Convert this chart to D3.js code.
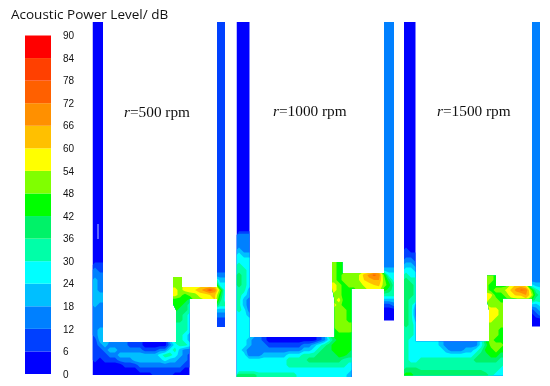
<!DOCTYPE html>
<html>
<head>
<meta charset="utf-8">
<style>
	html, body { margin: 0; padding: 0; background: #fff; }
	svg { display: block; }
</style>
<script src="https://cdn.jsdelivr.net/npm/d3@7"></script>
</head>
<body>
<div id="chart"></div>
<script>
// Legend: lower edge of each band in dB, and its colour
const levels = [0, 6, 12, 18, 24, 30, 36, 42, 48, 54, 60, 66, 72, 78, 84];
const levelColors = ["#0000ff", "#0040ff", "#0080ff", "#00bfff", "#00ffff", "#00ffa8", "#00f268", "#00ff00",
	"#80ff00", "#ffff00", "#ffc000", "#ff9000", "#ff6000", "#ff4000", "#ff0000"];
const legendTicks = [0, 6, 12, 18, 24, 30, 36, 42, 48, 54, 60, 66, 72, 78, 84, 90];

// dB, one row every 5px; {startColumn: [values]}, only inside the duct
const rows500 = [
	{0: [3, 3], 25: [9, 9]},
	{0: [3, 3], 25: [9, 9]},
	{0: [9, 9], 25: [9, 9]},
	{0: [15, 9], 25: [9, 9]},
	{0: [15, 15], 25: [15, 15]},
	{0: [21, 15], 16: [51, 51], 25: [21, 21]},
	{0: [21, 15], 16: [51, 51, 57, 57, 57, 57, 57, 57, 57, 27, 27]},
	{0: [21, 15], 16: [57, 51, 57, 57, 60, 64, 70, 76, 70, 51, 27]},
	{0: [21, 21], 16: [57, 51, 45, 51, 51, 57, 57, 60, 61, 45, 27]},
	{0: [21, 21], 16: [45, 45, 45, 39, 51, 51, 54, 57, 60, 39, 27]},
	{0: [21, 15], 16: [45, 45, 39, 33], 25: [33, 33]},
	{0: [15, 15], 16: [45, 39, 39, 33], 25: [21, 21]},
	{0: [15, 15], 16: [39, 39, 33, 27], 25: [15, 15]},
	{0: [15, 15], 16: [39, 39, 33, 27], 25: [9, 9]},
	{0: [15, 15], 16: [33, 33, 33, 27], 25: [9, 9]},
	{0: [15, 21], 16: [33, 33, 33, 27]},
	{0: [15, 21], 16: [33, 33, 27, 21]},
	{0: [9, 21, 21], 16: [33, 33, 27, 21]},
	{0: [9, 15, 21, 15, 15, 15, 15, 9, 9, 9, 3, 3, 3, 3, 3, 15, 27, 33, 33, 27]},
	{0: [9, 9, 15, 21, 21, 15, 15, 15, 15, 15, 9, 9, 9, 15, 15, 27, 33, 21, 15, 15]},
	{0: [9, 9, 9, 15, 15, 21, 21, 21, 21, 21, 21, 21, 21, 27, 33, 33, 27, 21, 15, 9]},
	{0: [9, 3, 9, 9, 9, 15, 15, 15, 21, 21, 21, 21, 21, 21, 27, 21, 21, 15, 15, 9]},
	{0: [3, 3, 3, 3, 3, 3, 9, 9, 9, 15, 15, 15, 15, 15, 15, 15, 15, 15, 9, 9]},
	{0: [3, 3, 3, 3, 3, 3, 3, 3, 3, 9, 9, 9, 9, 9, 9, 9, 9, 9, 3, 3]},
	{0: [3, 3, 3, 3, 3, 3, 3, 3, 3, 3, 3, 3, 9, 9, 9, 9, 3, 3, 3, 3]}
];

const rows1000 = [
	{0: [3, 3, 3], 29: [15, 15, 15]},
	{0: [3, 3, 3], 29: [15, 15, 15]},
	{0: [15, 15, 15], 29: [15, 15, 15]},
	{0: [15, 15, 15], 29: [15, 15, 15]},
	{0: [15, 15, 15], 29: [15, 15, 15]},
	{0: [21, 15, 15], 29: [15, 15, 15]},
	{0: [27, 21, 21], 29: [15, 15, 15]},
	{0: [27, 27, 27], 19: [51, 45, 45], 29: [15, 15, 15]},
	{0: [33, 27, 27], 19: [51, 45, 45], 29: [15, 15, 15]},
	{0: [33, 33, 27], 19: [51, 45, 45, 51, 51, 51, 51, 51, 57, 57, 21, 21, 21]},
	{0: [39, 33, 27], 19: [51, 45, 51, 51, 51, 54, 62, 68, 74, 70, 48, 27, 27]},
	{0: [39, 33, 27], 19: [51, 45, 51, 51, 51, 54, 60, 64, 66, 66, 51, 39, 27]},
	{0: [39, 33, 27], 19: [57, 51, 45, 51, 51, 51, 55, 57, 60, 61, 51, 45, 33]},
	{0: [33, 33, 21], 19: [57, 51, 45, 45, 45, 51, 51, 55, 57, 57, 45, 39, 33]},
	{0: [33, 27, 21], 19: [51, 51, 45, 45], 29: [33, 33, 33]},
	{0: [33, 21, 15], 19: [51, 57, 45, 45], 29: [21, 21, 21]},
	{0: [33, 21, 15], 19: [57, 51, 45, 45], 29: [9, 9, 15]},
	{0: [33, 27, 15], 19: [51, 51, 51, 45], 29: [3, 3, 3]},
	{0: [27, 27, 21], 19: [51, 51, 51, 45], 29: [3, 3, 3]},
	{0: [27, 27, 27], 19: [51, 51, 51, 45], 29: [3, 3, 3]},
	{0: [27, 27, 27], 19: [51, 51, 51, 51]},
	{0: [27, 27, 27], 19: [45, 51, 51, 51]},
	{0: [27, 27, 27], 19: [45, 45, 45, 45]},
	{0: [27, 27, 21, 15, 15, 9, 3, 3, 3, 3, 3, 3, 3, 3, 3, 3, 9, 15, 27, 39, 45, 45, 45, 39]},
	{0: [27, 27, 21, 15, 15, 15, 9, 9, 9, 9, 9, 9, 9, 15, 15, 21, 27, 33, 39, 45, 45, 45, 45, 39]},
	{0: [27, 21, 15, 15, 15, 15, 15, 15, 15, 15, 15, 15, 15, 21, 21, 27, 33, 39, 39, 45, 45, 45, 45, 39]},
	{0: [27, 27, 15, 15, 15, 21, 21, 21, 21, 21, 27, 27, 27, 33, 33, 33, 39, 39, 39, 39, 45, 45, 39, 39]},
	{0: [27, 27, 27, 27, 27, 27, 27, 27, 27, 27, 33, 33, 33, 33, 39, 39, 39, 39, 39, 39, 39, 33, 33, 33]},
	{0: [27, 27, 27, 27, 27, 27, 27, 27, 27, 27, 33, 33, 33, 33, 33, 33, 33, 33, 33, 33, 33, 33, 27, 27]},
	{0: [27, 27, 27, 27, 27, 27, 27, 27, 27, 27, 27, 27, 27, 27, 27, 27, 27, 27, 27, 27, 27, 27, 27, 21]},
	{0: [39, 39, 39, 39, 33, 33, 33, 33, 33, 33, 33, 33, 27, 27, 27, 27, 27, 27, 27, 27, 27, 27, 21, 15]},
	{0: [39, 39, 39, 39, 33, 33, 33, 33, 33, 33, 33, 33, 27, 27, 27, 27, 27, 27, 27, 27, 27, 27, 21, 15]}
];

const rows1500 = [
	{0: [3, 3, 3], 25: [15, 15, 15]},
	{0: [9, 3, 3], 25: [15, 15, 15]},
	{0: [9, 9, 9], 25: [15, 15, 15]},
	{0: [15, 15, 9], 25: [15, 15, 15]},
	{0: [21, 21, 15], 25: [15, 15, 15]},
	{0: [27, 27, 21], 25: [15, 15, 15]},
	{0: [33, 27, 27], 16: [51, 51, 45], 25: [15, 15, 15]},
	{0: [39, 33, 33], 16: [51, 51, 45], 25: [15, 15, 15]},
	{0: [39, 39, 33], 16: [51, 45, 45, 45, 45, 55, 61, 61, 55, 27, 21, 21]},
	{0: [39, 39, 33], 16: [51, 45, 51, 51, 55, 61, 68, 73, 72, 51, 33, 27]},
	{0: [39, 39, 33], 16: [57, 57, 45, 45, 51, 57, 61, 61, 66, 57, 39, 33]},
	{0: [39, 33, 33], 16: [57, 51, 51, 45, 45, 51, 51, 55, 57, 45, 33, 33]},
	{0: [39, 33, 21], 17: [51, 51, 51, 51], 25: [21, 21, 27]},
	{0: [39, 33, 15], 17: [57, 57, 51, 51], 25: [9, 15, 21]},
	{0: [39, 33, 15], 17: [57, 57, 51, 51], 25: [3, 9, 15]},
	{0: [39, 33, 21], 17: [57, 51, 51, 51], 25: [3, 3, 3]},
	{0: [39, 33, 27], 17: [51, 51, 51, 51], 25: [3, 3, 3]},
	{0: [33, 33, 27], 17: [51, 51, 45, 45]},
	{0: [33, 33, 27], 17: [51, 51, 45, 45]},
	{0: [33, 27, 27], 17: [51, 45, 45, 39]},
	{0: [33, 27, 27, 27, 27, 27, 27, 21, 15, 15, 15, 15, 15, 15, 15, 27, 39, 51, 51, 51, 45]},
	{0: [33, 27, 27, 27, 27, 27, 27, 27, 21, 15, 15, 15, 21, 21, 27, 33, 45, 45, 51, 45, 45]},
	{0: [33, 27, 27, 27, 27, 27, 27, 27, 27, 27, 27, 27, 27, 27, 33, 39, 39, 45, 45, 39, 39]},
	{0: [33, 27, 27, 33, 33, 33, 33, 33, 33, 33, 33, 33, 33, 33, 39, 39, 39, 39, 39, 33, 33]},
	{0: [33, 33, 33, 33, 33, 33, 33, 33, 33, 33, 33, 33, 33, 33, 33, 33, 33, 33, 33, 33, 27]},
	{0: [39, 39, 39, 36, 36, 36, 36, 36, 36, 36, 36, 36, 36, 36, 36, 36, 33, 33, 33, 27, 27]},
	{0: [45, 45, 39, 39, 39, 39, 39, 39, 39, 39, 39, 39, 39, 39, 39, 39, 39, 33, 27, 27, 27]}
];

const speeds = ["500", "1000", "1500"];
const speedRows = [rows500, rows1000, rows1500];

// Layout: first sample position and duct outline of each panel
const firstX = [95, 239, 406];
const firstY = [255, 225, 245];
const columnCounts = [27, 32, 28];
const ductOutlines = [
	[[92.5, 22], [103, 22], [103, 342], [176, 342], [176, 310], [173, 304], [173, 277], [182, 277], [182, 287], [217, 287],
		[217, 22], [225, 22], [225, 327], [217, 327], [217, 299], [189.5, 299], [189.5, 375], [92.5, 375]],
	[[236.5, 22], [249.5, 22], [249.5, 337], [334.5, 337], [334.5, 300], [332, 288], [332, 262], [342.5, 262], [342.5, 273], [384, 273],
		[384, 22], [394, 22], [394, 320.5], [384, 320.5], [384, 289], [351.5, 289], [351.5, 377], [236.5, 377]],
	[[404, 22], [415.5, 22], [415.5, 341.5], [489, 341.5], [489, 310], [487, 300], [487, 275.5], [496, 275.5], [496, 286], [532, 286],
		[532, 22], [540, 22], [540, 326.5], [532, 326.5], [532, 298.5], [503, 298.5], [503, 375.5], [404, 375.5]]
];
const labelX = [124, 273, 437];
const labelY = [117, 116, 116];

const width = 550;
const height = 386;
const step = 5;

const svg = d3.select("#chart")
	.append("svg")
	.attr("width", width)
	.attr("height", height)
	.style("filter", "blur(0.4px)");

// Title
svg.append("text")
	.attr("x", 11)
	.attr("y", 19)
	.attr("font-family", "'Open Sans', sans-serif")
	.attr("font-size", 13.5)
	.attr("fill", "#111")
	.text("Acoustic Power Level/ dB");

// Colour legend
const legendScale = d3.scaleLinear().domain([0, 90]).range([374, 35.5]);

svg.append("g")
	.selectAll("rect")
	.data(levels)
	.join("rect")
	.attr("x", 25)
	.attr("width", 26)
	.attr("y", d => legendScale(d + 6))
	.attr("height", d => legendScale(d) - legendScale(d + 6))
	.attr("fill", (d, i) => levelColors[i]);

const legendAxis = svg.append("g")
	.attr("transform", "translate(63,0)")
	.call(d3.axisRight(legendScale).tickValues(legendTicks).tickSize(0).tickPadding(0));
legendAxis.select(".domain").remove();
legendAxis.selectAll("text")
	.attr("font-family", "'Liberation Sans', Arial, sans-serif")
	.attr("font-size", 10)
	.attr("fill", "#111");

// Panels
speeds.forEach((speed, p) => drawPanel(p));

// Small slit in the left tube of the first panel
svg.append("line")
	.attr("x1", 98).attr("x2", 98)
	.attr("y1", 224).attr("y2", 239)
	.attr("stroke", "#b8c8ff")
	.attr("stroke-width", 1);

function drawPanel(p) {
	const rows = speedRows[p];
	const nx = columnCounts[p];
	// one more row on top: the tubes stay at one level up to their open end
	const values = fillOutside(rows, nx);
	const grid = values.slice(0, nx).concat(values);
	const ny = rows.length + 1;

	// d3.contours puts sample k at k + 0.5
	const x = d3.scaleLinear()
		.domain([0.5, nx - 0.5])
		.range([firstX[p], firstX[p] + (nx - 1) * step]);
	const y = d3.scaleLinear()
		.domain([0.5, 1.5, ny - 0.5])
		.range([15, firstY[p], firstY[p] + (rows.length - 1) * step]);

	const path = d3.geoPath(d3.geoTransform({
		point(a, b) { this.stream.point(x(a), y(b)); }
	}));

	const contours = d3.contours()
		.size([nx, ny])
		.smooth(true)
		.thresholds(levels)(grid);

	const clipId = `duct-${p}`;
	svg.append("clipPath")
		.attr("id", clipId)
		.append("path")
		.attr("d", d3.line()(ductOutlines[p]) + "Z");

	svg.append("g")
		.attr("clip-path", `url(#${clipId})`)
		.selectAll("path")
		.data(contours)
		.join("path")
		.attr("d", path)
		.attr("fill", (d, i) => levelColors[i]);

	const label = svg.append("text")
		.attr("x", labelX[p])
		.attr("y", labelY[p])
		.attr("font-family", "'Liberation Serif', 'Times New Roman', serif")
		.attr("font-size", 15.3)
		.attr("fill", "#111");
	label.append("tspan").attr("font-style", "italic").text("r");
	label.append("tspan").text(`=${speeds[p]} rpm`);
}

// Expand the sparse rows and copy neighbours into cells outside the duct,
// those get clipped away but must not bend the bands at the wall
function fillOutside(rows, nx) {
	const ny = rows.length;
	const out = new Array(nx * ny).fill(null);
	rows.forEach((row, j) => {
		Object.keys(row).forEach(start => {
			row[start].forEach((v, k) => { out[j * nx + (+start) + k] = v; });
		});
	});
	let missing = true;
	while (missing) {
		missing = false;
		const prev = out.slice();
		for (let j = 0; j < ny; j++) {
			for (let i = 0; i < nx; i++) {
				if (prev[j * nx + i] !== null) continue;
				const near = [];
				if (i > 0) near.push(prev[j * nx + i - 1]);
				if (i < nx - 1) near.push(prev[j * nx + i + 1]);
				if (j > 0) near.push(prev[(j - 1) * nx + i]);
				if (j < ny - 1) near.push(prev[(j + 1) * nx + i]);
				const known = near.filter(v => v !== null);
				if (known.length) out[j * nx + i] = d3.mean(known);
				else missing = true;
			}
		}
	}
	return out;
}
</script>
</body>
</html>
